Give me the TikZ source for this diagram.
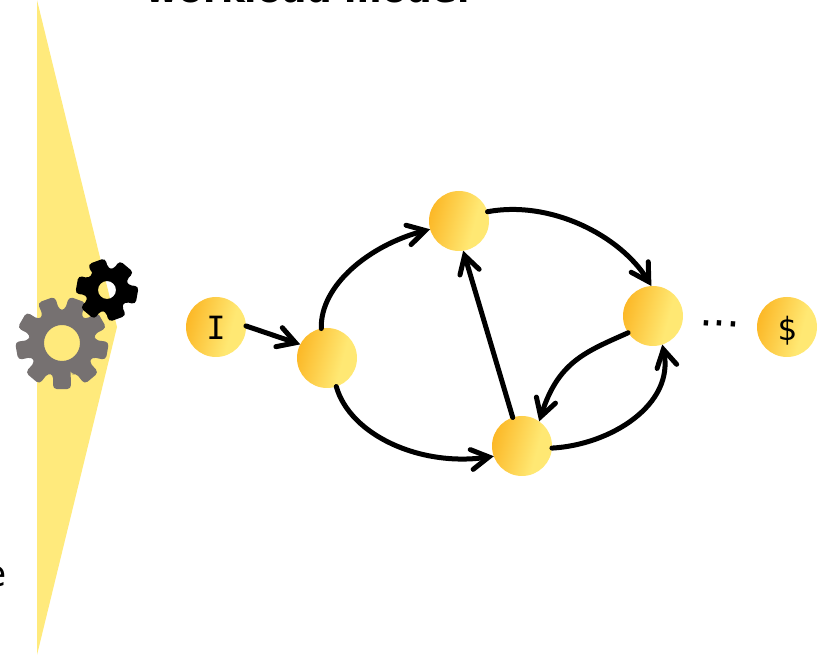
\documentclass[tikz,border=0pt]{standalone}
\usepackage{fontspec}
\setmainfont{DejaVu Sans}
\newfontfamily\monof{DejaVu Sans Mono}
\usetikzlibrary{arrows.meta}
\definecolor{tri}{HTML}{FFEA7C}
\definecolor{gearg}{HTML}{767171}
\definecolor{nodea}{HTML}{FBAE17}
\definecolor{nodeb}{HTML}{FFE873}
\pgfdeclarehorizontalshading{stategrad}{100bp}{color(0bp)=(nodea); color(17bp)=(nodea); color(63bp)=(nodeb); color(100bp)=(nodeb)}
\newcommand{\dropby}[2]{\raisebox{-#1}[\dimexpr\height+#1\relax][\dimexpr\depth+#1\relax]{#2}}
\tikzset{
  state/.style={circle,minimum size=45pt,inner sep=0pt,outer sep=0pt,shading=stategrad,shading angle=-15,font=\monof\fontsize{24}{24}\selectfont},
  link/.style={line width=3.75pt,line cap=round,-{Straight Barb[length=13pt,width=15pt,line width=3.75pt,line cap=round]}},
  lab/.style={inner sep=0pt,anchor=base west,font=\fontsize{27}{27}\selectfont},
}
\newcommand{\gearshape}[7]{% colour centre teeth start Rout Rroot hole
  \pgfmathsetmacro{\gstep}{360/#3}
  \fill[#1,even odd rule,rounded corners=3pt,shift={#2}]
    (#4-0.38*\gstep:#6)
    \foreach \k in {1,...,#3}{
      -- ({#4+(\k-1)*\gstep-0.28*\gstep}:#5)
      -- ({#4+(\k-1)*\gstep+0.28*\gstep}:#5)
      -- ({#4+(\k-1)*\gstep+0.38*\gstep}:#6)
      -- ({#4+\k*\gstep-0.38*\gstep}:#6)
    } -- cycle
    [sharp corners] (0,0) circle[radius=#7];
}
\begin{document}
\begin{tikzpicture}[x=0.75pt,y=-0.75pt]
\useasboundingbox (0,0) rectangle (825,655);
\clip (0,0) rectangle (825,655);
\fill[tri] (37,0) -- (117,327) -- (37,655) -- cycle;
\node[lab,font=\bfseries\fontsize{27}{27}\selectfont] (title) at (145,3) {workload model};
\node[lab,anchor=base east] (tail) at (7,587) {e};
\gearshape{gearg}{(62,343)}{9}{90}{47}{33}{18}
\gearshape{black}{(107,290)}{6}{-110}{32}{21.5}{9}
\node[state] (I) at (216,327) {\dropby{1pt}{I}};
\node[state] (A) at (327,358) {};
\node[state] (B) at (459,221) {};
\node[state] (C) at (653,316) {};
\node[state] (D) at (522,446) {};
\node[state] (E) at (787,327) {\dropby{3pt}{\$}};
\node[lab,font=\fontsize{32}{32}\selectfont,rotate=-4] (dots) at (699,325) {...};
\draw[link] (I.2) -- (A.153);
\draw[link] (A.101) .. controls (320,285) and (370,245) .. (B.196);
\draw[link] (B.18) .. controls (550,200) and (620,235) .. (C.93);
\draw[link] (C.214) .. controls (585,352) and (558,362) .. (D.55);
\draw[link] (D.-4) .. controls (610,445) and (675,405) .. (C.-72);
\draw[link] (D.108) -- (B.-82);
\draw[link] (A.-72) .. controls (350,435) and (420,467) .. (D.200);
\end{tikzpicture}
\end{document}
